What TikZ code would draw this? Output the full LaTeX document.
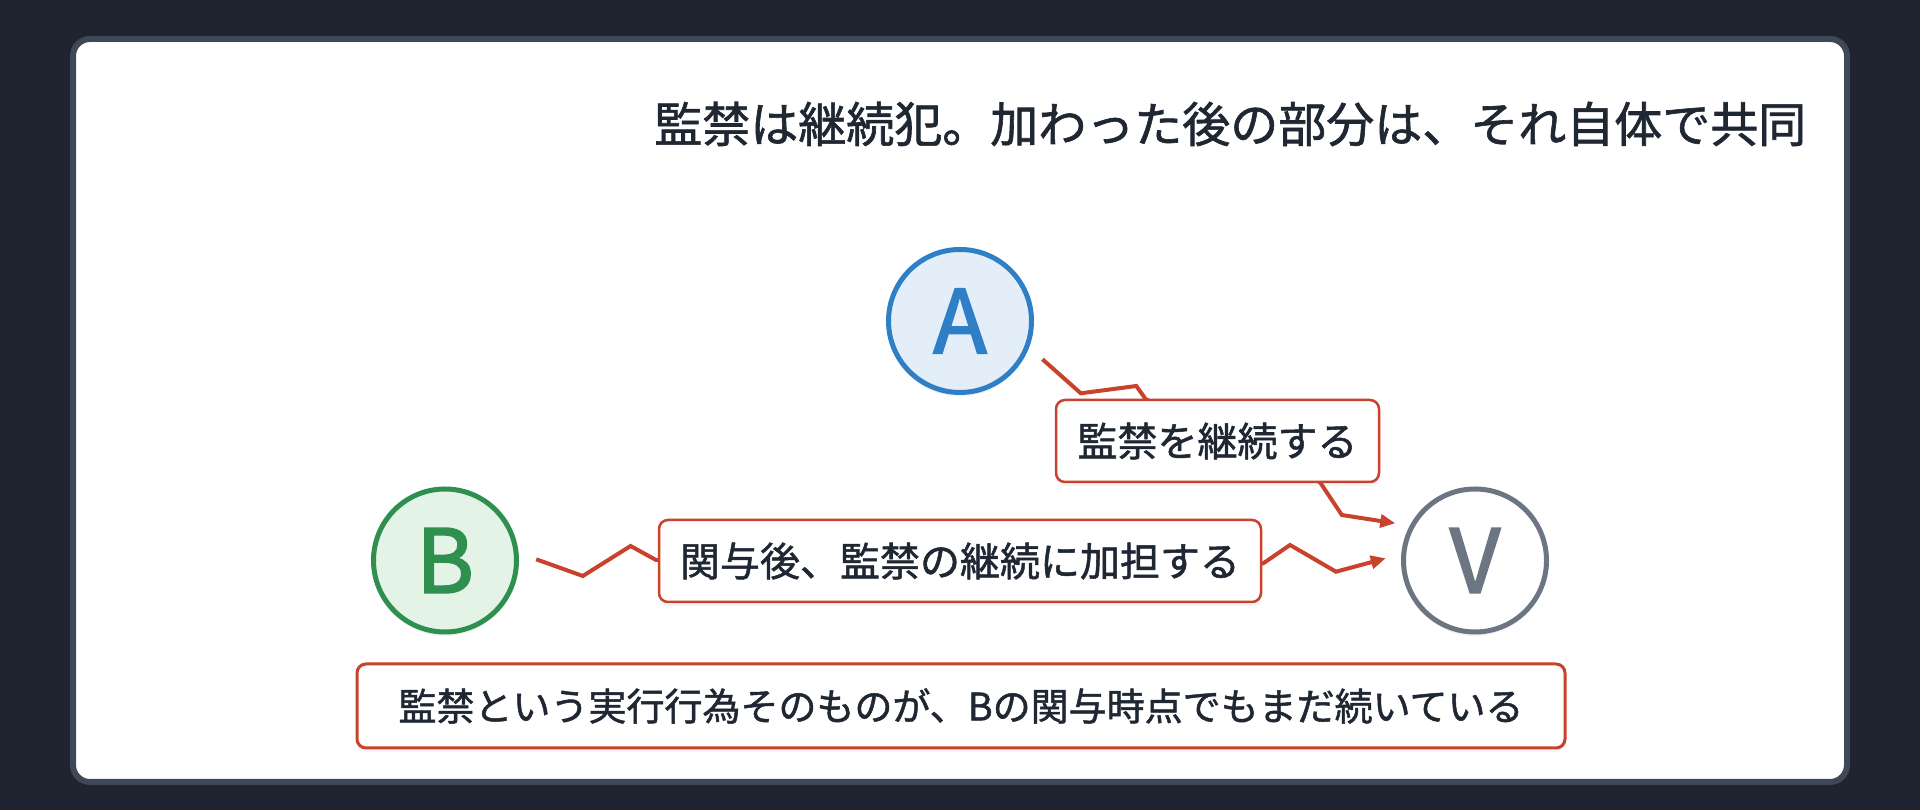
\documentclass[tikz,border=0pt]{standalone}
\usepackage{fontspec}
\usepackage{xcolor}
\usepackage{tikz}
\usetikzlibrary{calc,arrows.meta,shadows}
\newfontfamily\jp[FakeBold=1.3]{Noto Sans CJK JP}
\newfontfamily\jpletter[FakeBold=2.2]{Noto Sans CJK JP}
\definecolor{bgdark}{HTML}{1F2430}
\definecolor{cardedge}{HTML}{3E4858}
\definecolor{ink}{HTML}{1F2733}
\definecolor{redline}{HTML}{C9422C}
\definecolor{ablue}{HTML}{2F7FC7}
\definecolor{afill}{HTML}{E4EEF9}
\definecolor{bgreen}{HTML}{2F8F4F}
\definecolor{bfill}{HTML}{E3F4E7}
\definecolor{vgray}{HTML}{6C7683}

\tikzset{
  person/.style={circle, line width=5pt, minimum size=143pt, inner sep=0pt,
    font=\jpletter\fontsize{88}{88}\selectfont,
    drop shadow={shadow xshift=0pt, shadow yshift=-4pt, opacity=0.10}},
  tag/.style={draw=redline, line width=2.5pt, fill=white, rounded corners=9pt,
    minimum height=82pt, inner sep=0pt, text=ink,
    font=\jp\fontsize{40}{48}\selectfont,
    drop shadow={shadow xshift=0pt, shadow yshift=-4pt, opacity=0.08}},
  zig/.style={draw=redline, line width=4pt, -{Triangle[length=15pt,width=13pt]}},
}

\begin{document}
\begin{tikzpicture}[x=1pt,y=1pt]
    % page and card
    \useasboundingbox (0,0) rectangle (1920,810);
    \fill[bgdark] (0,0) rectangle (1920,810);
    \draw[cardedge, line width=6pt, fill=white, rounded corners=17pt] (73,771) rectangle (1847,28);
    % title
    \node[anchor=east, inner sep=0pt, text=ink, font=\jp\fontsize{48}{58}\selectfont] (head) at (1806.5,686)
        {監禁は継続犯。加わった後の部分は、それ自体で共同};
    % persons
    \node[person, draw=ablue, fill=afill, text=ablue] (A) at (960,489) {A};
    \node[person, draw=bgreen, fill=bfill, text=bgreen] (B) at (445,249.5) {B};
    \node[person, draw=vgray, fill=white, text=vgray] (V) at (1475,249.5) {V};
    % connectors
    \draw[zig] ($(A)+(82.5,-38.3)$) -- ++(38.3,-34) -- ++(55.5,7.3) -- ++(9.5,-13.3)
        -- ++(174.2,-83) -- ++(21.8,-32.7) -- ($(V)+(-79.7,37.2)$);
    \draw[zig] ($(B)+(91.2,1.2)$) -- ++(46.6,-16.7) -- ++(47.8,30) -- ++(25.4,-14)
        -- ++(607.3,-3.3) -- ++(26.7,18.3) -- ++(46,-26.7) -- ($(V)+(-89.2,2.2)$);
    % labels
    \node[tag, minimum width=323pt] (keep) at (1217.5,369) {監禁を継続する};
    \node[tag, minimum width=602pt] (join) at (960,249) {関与後、監禁の継続に加担する};
    \node[tag, line width=3pt, minimum width=1208pt, minimum height=84pt,
        font=\jp\fontsize{38}{46}\selectfont] (note) at (961,104)
        {監禁という実行行為そのものが、Bの関与時点でもまだ続いている};
\end{tikzpicture}
\end{document}
